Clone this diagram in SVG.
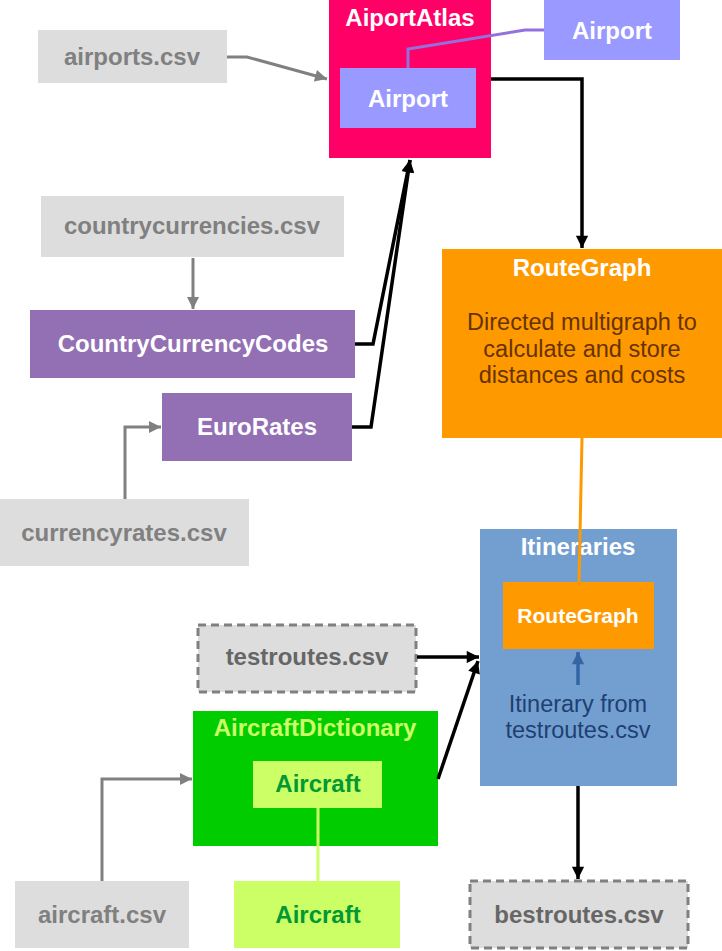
<svg xmlns="http://www.w3.org/2000/svg" width="722" height="951" viewBox="0 0 722 951">
<defs>
<style>
text{font-family:"Liberation Sans",Arial,sans-serif;text-anchor:middle;}
.b{font-weight:bold;font-size:24px;}
.r{font-size:23.5px;}
.s{font-weight:bold;font-size:21px;}
.csv{fill:#dddddd;}
.csvt{fill:#808080;}
.dash{fill:#dddddd;stroke:#808080;stroke-width:3;stroke-dasharray:8,5;}
.dasht{fill:#666666;}
.w{fill:#ffffff;}
.gl{fill:none;stroke:#808080;stroke-width:3;}
.bl{fill:none;stroke:#000000;stroke-width:3.5;}
</style>
<marker id="ag" viewBox="0 0 10 10" refX="10" refY="5" markerWidth="5" markerHeight="4" markerUnits="strokeWidth" orient="auto"><path d="M0,0 L10,5 L0,10 z" fill="#808080"/></marker>
<marker id="ab" viewBox="0 0 10 10" refX="10" refY="5" markerWidth="4.5" markerHeight="3.5" markerUnits="strokeWidth" orient="auto"><path d="M0,0 L10,5 L0,10 z" fill="#000000"/></marker>
<marker id="au" viewBox="0 0 10 10" refX="10" refY="5" markerWidth="4.5" markerHeight="3.5" markerUnits="strokeWidth" orient="auto"><path d="M0,0 L10,5 L0,10 z" fill="#3465a4"/></marker>
</defs>

<g id="airports-csv"><rect class="csv" x="38" y="30" width="189" height="53"/><text class="b csvt" x="132" y="65">airports.csv</text></g>

<g id="aiportatlas"><rect x="329" y="0" width="162" height="158" fill="#ff0066"/><text class="b w" x="410" y="26">AiportAtlas</text>
<g id="airport-inner"><rect x="340" y="68" width="136" height="60" fill="#9999ff"/><text class="b w" x="408" y="107">Airport</text></g></g>

<g id="airport-outer"><rect x="544" y="0" width="136" height="60" fill="#9999ff"/><text class="b w" x="612" y="39">Airport</text></g>

<g id="countrycurrencies-csv"><rect class="csv" x="41" y="196" width="303" height="61"/><text class="b csvt" x="192" y="234">countrycurrencies.csv</text></g>

<g id="countrycurrencycodes"><rect x="30" y="310" width="325" height="68" fill="#9370b4"/><text class="b w" x="193" y="352">CountryCurrencyCodes</text></g>

<g id="eurorates"><rect x="162" y="393" width="190" height="68" fill="#9370b4"/><text class="b w" x="257" y="435">EuroRates</text></g>

<g id="currencyrates-csv"><rect class="csv" x="0" y="499" width="249" height="67"/><text class="b csvt" x="124" y="541">currencyrates.csv</text></g>

<g id="routegraph"><rect x="442" y="249" width="280" height="189" fill="#ff9900"/><text class="b w" x="582" y="276">RouteGraph</text>
<text class="r" fill="#663300" x="582" y="330">Directed multigraph to</text>
<text class="r" fill="#663300" x="582" y="357">calculate and store</text>
<text class="r" fill="#663300" x="582" y="383">distances and costs</text></g>

<g id="itineraries"><rect x="480" y="529" width="197" height="257" fill="#729fcf"/><text class="b w" x="578" y="555">Itineraries</text>
<g id="routegraph-inner"><rect x="503" y="582" width="151" height="67" fill="#ff9900"/><text class="s w" x="578" y="623">RouteGraph</text></g>
<text class="r" fill="#1f3f73" x="578" y="712">Itinerary from</text>
<text class="r" fill="#1f3f73" x="578" y="738">testroutes.csv</text></g>

<g id="testroutes-csv"><rect class="dash" x="198" y="625" width="218" height="67"/><text class="b dasht" x="307" y="665">testroutes.csv</text></g>

<g id="aircraftdictionary"><rect x="193" y="711" width="245" height="135" fill="#00cc00"/><text class="b" fill="#ccff66" x="315" y="736">AircraftDictionary</text>
<g id="aircraft-inner"><rect x="253" y="761" width="129" height="47" fill="#ccff66"/><text class="b" fill="#009933" x="318" y="792">Aircraft</text></g></g>

<g id="aircraft-csv"><rect class="csv" x="15" y="881" width="174" height="67"/><text class="b csvt" x="102" y="923">aircraft.csv</text></g>

<g id="aircraft-outer"><rect x="234" y="881" width="166" height="67" fill="#ccff66"/><text class="b" fill="#009933" x="318" y="923">Aircraft</text></g>

<g id="bestroutes-csv"><rect class="dash" x="470" y="881" width="218" height="67"/><text class="b dasht" x="579" y="923">bestroutes.csv</text></g>

<g id="connectors">
<polyline class="gl" points="227,57 247,57 327,79" marker-end="url(#ag)"/>
<polyline points="408,68 408,49 525,30 544,30" fill="none" stroke="#9370db" stroke-width="3"/>
<polyline class="bl" points="491,79 582,79 582,248" marker-end="url(#ab)"/>
<line class="gl" x1="193" y1="258" x2="193" y2="309" marker-end="url(#ag)"/>
<polyline class="bl" points="355,344 373,344 410,160" marker-end="url(#ab)"/>
<polyline class="bl" points="352,427 371,427 410,160" marker-end="url(#ab)"/>
<polyline class="gl" points="125,499 125,427 161,427" marker-end="url(#ag)"/>
<line x1="582" y1="438" x2="579" y2="582" stroke="#ff9900" stroke-width="3"/>
<line x1="578" y1="685" x2="578" y2="652" stroke="#3465a4" stroke-width="3.5" marker-end="url(#au)"/>
<line class="bl" x1="417" y1="657" x2="479" y2="657" marker-end="url(#ab)"/>
<line class="bl" x1="438" y1="779" x2="478" y2="661" marker-end="url(#ab)"/>
<polyline class="gl" points="102,881 102,779 192,779" marker-end="url(#ag)"/>
<line x1="318" y1="808" x2="318" y2="881" stroke="#ccff66" stroke-width="3"/>
<line class="bl" x1="578" y1="786" x2="578" y2="879" marker-end="url(#ab)"/>
</g>
</svg>
